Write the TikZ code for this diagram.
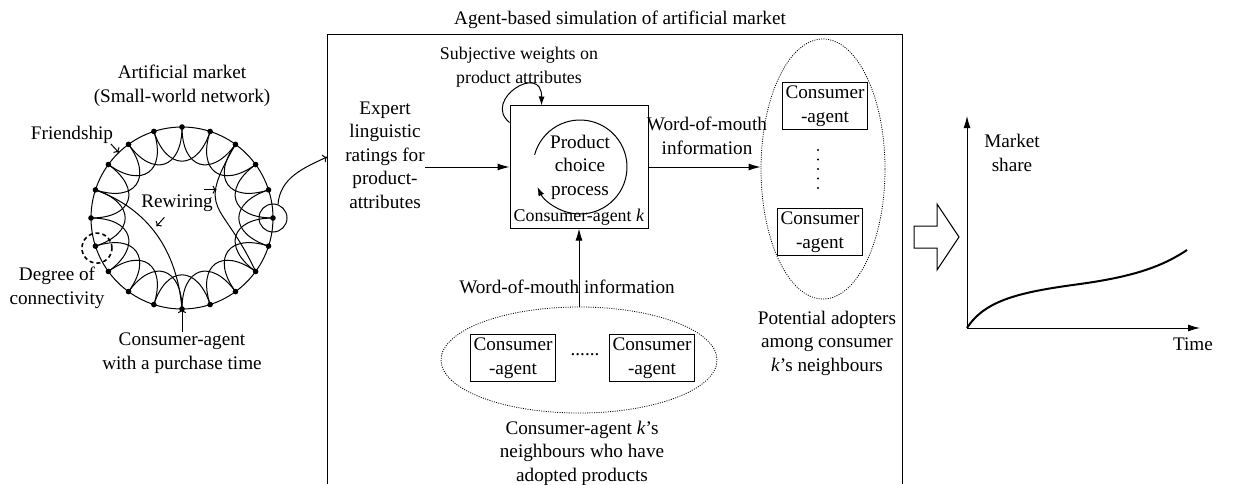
\documentclass[tikz,border=0pt]{standalone}
\usepackage{fontspec}
\setmainfont{Liberation Serif}
\usetikzlibrary{arrows.meta, shapes.geometric, calc}

\tikzset{
  every path/.style={line width=1pt},
  flow/.style={-{Latex[length=12pt,width=7pt]}},
  hint/.style={-{To[length=4pt,width=8pt]}},
  txt/.style={align=center, inner sep=0pt},
  agent/.style={draw, align=center, minimum width=85pt, minimum height=47pt, inner sep=1pt},
  crowd/.style={draw, ellipse, inner sep=0pt, line width=0.8pt, dash pattern=on 1pt off 1.3pt},
}
\newcommand{\smallfont}{\fontsize{17.9}{22}\selectfont}

\begin{document}
\begin{tikzpicture}[x=1pt, y=1pt, font=\fontsize{19.2}{23.5}\selectfont]
    \useasboundingbox (0,0) rectangle (1246,-484);

    % Small-world ring
    \node[txt] (market) at (182,-86) {Artificial market\\(Small-world network)};
    \coordinate (hub) at (182,-218);
    \foreach \i in {0,...,19}
        \coordinate (p\i) at ($(hub)+(\i*18:91)$);
    \draw (hub) circle (91);
    \foreach \i in {0,...,19} {
        \pgfmathtruncatemacro{\j}{mod(\i+2,20)}
        \pgfmathtruncatemacro{\ao}{\i*18+180}
        \pgfmathtruncatemacro{\ai}{\i*18+216}
        \draw (p\i) to[out=\ao, in=\ai, looseness=1.9] (p\j);
    }
    % rewired links
    \draw (p9) to[out=-20, in=95] (p15);
    \draw (p3) to[out=240, in=115, looseness=1.6] (p18);
    \foreach \i in {0,...,19}
        \fill (p\i) circle (2.8);

    \node[draw, circle, minimum size=28pt, inner sep=0pt] (focus) at (p0) {};
    \node[draw, circle, minimum size=30pt, inner sep=0pt, line width=1.6pt,
          dash pattern=on 4pt off 3pt] (degree) at ($(p11)+(1.5,-2)$) {};

    \node (friend) at (72,-135) {Friendship};
    \draw[hint] ($(friend.east)+(-6,-9)$) -- ($(hub)+(134:91)$);
    \node (rewire) at (177,-203) {Rewiring};
    \draw[hint] ($(rewire.north east)+(-13,1)$) -- ($(rewire.north east)+(0,1)$);
    \draw[hint] ($(rewire.south west)+(27,-2)$) -- ($(rewire.south west)+(19,-11)$);
    \node[txt] (degreelbl) at (57,-288) {Degree of\\connectivity};
    \node[txt] (buyer) at (182,-353) {Consumer-agent\\with a purchase time};
    \draw[hint] (buyer.north) -- (p15);

    % Simulation frame
    \node (sim) at (620,-20) {Agent-based simulation of artificial market};
    \draw (327,-484) -- (327,-35) -- (902,-35) -- (902,-484);
    \coordinate (entry) at (327,-157);
    \draw[hint] (focus.70) to[out=85, in=205] (entry);

    % Consumer-agent k
    \node[draw, minimum width=138pt, minimum height=122pt] (agentk) at (579,-167) {};
    \node[anchor=south, inner sep=3pt] (agentklbl) at (agentk.south) {\smallfont Consumer-agent \textit{k}};
    \node[txt] (choice) at (580,-167) {Product\\choice\\process};
    \draw[-{Latex[length=9pt,width=6pt]}] ($(choice)+(165:47)$) arc[start angle=165, end angle=-155, radius=47];
    \node[txt] (weights) at (519,-67) {\smallfont Subjective weights on\\\smallfont product attributes};
    \coordinate (loopstart) at ($(agentk.north west)+(0,-17)$);
    \coordinate (loopend) at ($(agentk.north west)+(32,0)$);
    \draw[-{Latex[length=9pt,width=6pt]}] (loopstart) .. controls (482,-100) and (542,-62) .. (loopend);

    \node[txt] (expert) at (385,-155) {Expert\\linguistic\\ratings for\\product-\\attributes};
    \draw[flow] (expert.east |- agentk.west) -- (agentk.west);

    % Potential adopters
    \node[crowd, minimum width=124pt, minimum height=260pt] (adopters) at (823,-169) {};
    \node[agent] (adopt1) at (825,-106) {Consumer\\-agent};
    \node[agent] (adopt2) at (820,-232) {Consumer\\-agent};
    \foreach \k in {0,...,4}
        \fill (818,-150-\k*9.5) circle (1.1);
    \node[txt] (potential) at (827,-343) {Potential adopters\\among consumer\\\textit{k}'s neighbours};
    \node[txt] (womr) at (707,-136) {Word-of-mouth\\information};
    \draw[flow] (agentk.east) -- (agentk.east -| adopters.west);

    % Neighbours who adopted
    \node[crowd, minimum width=276pt, minimum height=106pt] (adopted) at (579,-360) {};
    \node[agent] (nbr1) at (513,-358) {Consumer\\-agent};
    \node[agent] (nbr2) at (652,-358) {Consumer\\-agent};
    \node (nbrdots) at (585,-355) {......};
    \node (woml) at (567,-287) {Word-of-mouth information};
    \draw[flow] (adopted.north) -- (agentk.south);
    \node[txt] (nbrs) at (582,-453) {Consumer-agent \textit{k}'s\\neighbours who have\\adopted products};

    % Result arrow
    \draw (914,-226) -- (937,-226) -- (937,-204) -- (959,-237) -- (937,-270) -- (937,-248) -- (914,-248) -- cycle;

    % Market share curve
    \coordinate (origin) at (967,-328);
    \coordinate (ytip) at (967,-116);
    \coordinate (xtip) at (1200,-328);
    \draw[flow] (origin) -- (ytip);
    \draw[flow] (origin) -- (xtip);
    \node[txt] (share) at (1012,-153) {Market\\share};
    \node (time) at (1193,-344) {Time};
    \draw[line width=2pt] (origin) .. controls (985,-300) and (1020,-292) .. (1080,-284)
        .. controls (1130,-277) and (1160,-268) .. (1187,-250);
\end{tikzpicture}
\end{document}
